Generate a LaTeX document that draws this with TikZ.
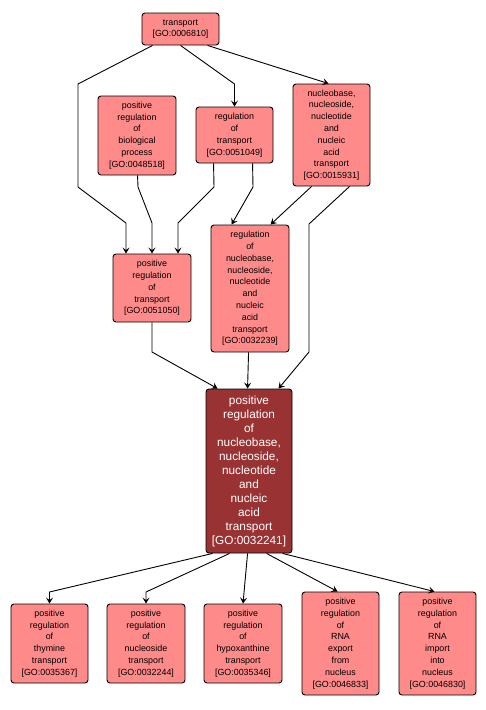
\documentclass[tikz,border=0pt]{standalone}
\usepackage{fontspec}
\setmainfont{Liberation Sans}
\usetikzlibrary{arrows.meta,calc}
\definecolor{pinkfill}{RGB}{255,138,138}
\definecolor{darkfill}{RGB}{153,51,51}
\begin{document}
\begin{tikzpicture}[x=1pt,y=-1pt,
  box/.style={draw=black,line width=0.9pt,rounded corners=3pt,fill=pinkfill,align=center,inner sep=0pt,
    font=\fontsize{8.9}{11.8}\selectfont},
  mainbox/.style={box,fill=darkfill,text=white,font=\fontsize{11.8}{14}\selectfont},
  arr/.style={draw=black,line width=0.9pt,-{Stealth[length=6pt,width=7pt,inset=2.5pt]}}]
\useasboundingbox (0,0) rectangle (486,710);
\fill[white] (0,0) rectangle (486,710);
% nodes
\node[box,minimum width=77pt,minimum height=32pt] (t) at (180.5,29) {transport\\{}[GO:0006810]};
\node[box,minimum width=78pt,minimum height=79pt] (bp) at (137,135.5) {positive\\regulation\\of\\biological\\process\\{}[GO:0048518]};
\node[box,minimum width=77pt,minimum height=56pt] (rt) at (234.5,135) {regulation\\of\\transport\\{}[GO:0051049]};
\node[box,minimum width=77pt,minimum height=102pt] (nn) at (331.5,135) {nucleobase,\\nucleoside,\\nucleotide\\and\\nucleic\\acid\\transport\\{}[GO:0015931]};
\node[box,minimum width=78pt,minimum height=68pt] (prt) at (152,288) {positive\\regulation\\of\\transport\\{}[GO:0051050]};
\node[box,minimum width=78pt,minimum height=127pt] (rn) at (250,288.5) {regulation\\of\\nucleobase,\\nucleoside,\\nucleotide\\and\\nucleic\\acid\\transport\\{}[GO:0032239]};
\node[mainbox,minimum width=86pt,minimum height=164pt] (m) at (249,471) {positive\\regulation\\of\\nucleobase,\\nucleoside,\\nucleotide\\and\\nucleic\\acid\\transport\\{}[GO:0032241]};
\node[box,minimum width=77pt,minimum height=79pt] (b1) at (49.5,643.5) {positive\\regulation\\of\\thymine\\transport\\{}[GO:0035367]};
\node[box,minimum width=78pt,minimum height=79pt] (b2) at (146,643.5) {positive\\regulation\\of\\nucleoside\\transport\\{}[GO:0032244]};
\node[box,minimum width=78pt,minimum height=79pt] (b3) at (243,643.5) {positive\\regulation\\of\\hypoxanthine\\transport\\{}[GO:0035346]};
\node[box,minimum width=77pt,minimum height=103pt] (b4) at (340.5,643.5) {positive\\regulation\\of\\RNA\\export\\from\\nucleus\\{}[GO:0046833]};
\node[box,minimum width=77pt,minimum height=103pt] (b5) at (437.5,643.5) {positive\\regulation\\of\\RNA\\import\\into\\nucleus\\{}[GO:0046830]};
% bend points
\coordinate (k1a) at (78,84); \coordinate (k1b) at (78,187); \coordinate (k1c) at (126,223);
\coordinate (k2a) at (138,187); \coordinate (k2b) at (152,223);
\coordinate (k3a) at (214,187); \coordinate (k3b) at (178,223);
\coordinate (k4a) at (253,187);
\coordinate (k5a) at (234.5,84);
\coordinate (k8a) at (309,224); \coordinate (k8b) at (309,352);
\coordinate (k9a) at (152,352);
\coordinate (k11a) at (49.5,592);
\coordinate (k12a) at (146,592);
% edges
\draw[arr] ($(t.south west)+(11,0)$) -- (k1a) -- (k1b) -- (k1c) -- (k1c |- prt.north);
\draw[arr] ($(bp.south west)+(40,0)$) -- (k2a) -- (k2b) -- (k2b |- prt.north);
\draw[arr] ($(rt.south west)+(18,0)$) -- (k3a) -- (k3b) -- (k3b |- prt.north);
\draw[arr] ($(rt.south west)+(57,0)$) -- (k4a) -- ($(rn.north west)+(21,0)$);
\draw[arr] ($(t.south west)+(39,0)$) -- (k5a) -- (rt.north);
\draw[arr] ($(t.south west)+(66,0)$) -- ($(nn.north west)+(36,0)$);
\draw[arr] ($(nn.south west)+(19,0)$) -- ($(rn.north west)+(60,0)$);
\draw[arr] ($(nn.south west)+(57,0)$) -- (k8a) -- (k8b) -- ($(m.north west)+(73,0)$);
\draw[arr] (prt.south) -- (k9a) -- ($(m.north west)+(12,0)$);
\draw[arr] ($(rn.south west)+(38,0)$) -- ($(m.north west)+(42,0)$);
\draw[arr] ($(m.south west)+(7,0)$) -- (k11a) -- (b1.north);
\draw[arr] ($(m.south west)+(24,0)$) -- (k12a) -- (b2.north);
\draw[arr] ($(m.south west)+(42,0)$) -- (b3.north);
\draw[arr] ($(m.south west)+(61,0)$) -- ($(b4.north west)+(36,0)$);
\draw[arr] ($(m.south west)+(77,0)$) -- ($(b5.north west)+(36,0)$);
\end{tikzpicture}
\end{document}
